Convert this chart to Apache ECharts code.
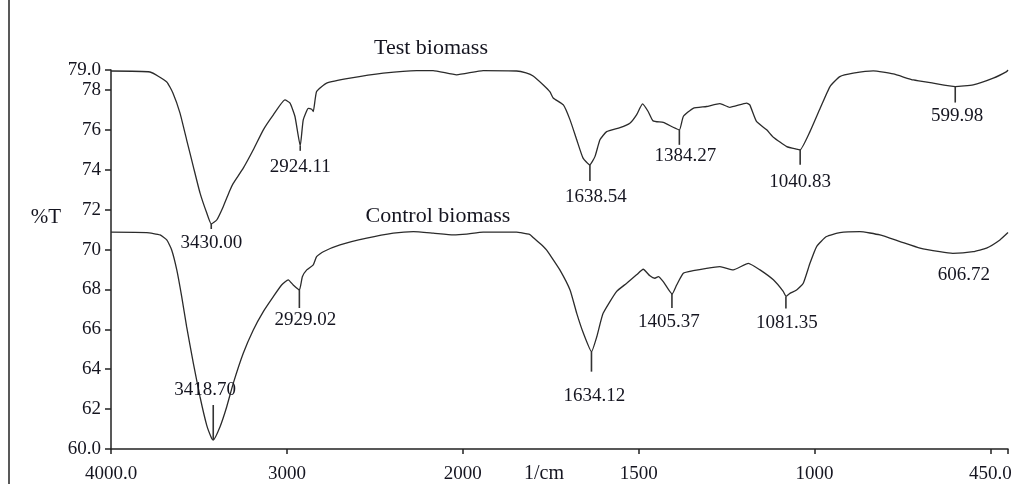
<!DOCTYPE html>
<html>
<head>
<meta charset="utf-8">
<script src="https://cdn.jsdelivr.net/npm/echarts@6/dist/echarts.min.js"></script>
<style>html,body{margin:0;padding:0;background:#fff;}#c{width:1014px;height:484px;}</style>
</head>
<body>
<div id="c"></div>
<script>
// ---- Data (wavenumber in 1/cm, transmittance in %T) ----
const testWn = [4000, 3778, 3683, 3648, 3608, 3570, 3532, 3494, 3456, 3430, 3399, 3362, 3323, 3305, 3248, 3191, 3134, 3077, 3011, 2982, 2954, 2924, 2907, 2878, 2859, 2850, 2831, 2774, 2641, 2452, 2262, 2169, 2035, 1942, 1847, 1820, 1800, 1771, 1752, 1743, 1714, 1695, 1676, 1658, 1639, 1624, 1610, 1591, 1553, 1525, 1506, 1489, 1473, 1459, 1430, 1402, 1384, 1373, 1345, 1307, 1269, 1241, 1193, 1184, 1165, 1136, 1117, 1079, 1051, 1041, 1013, 984, 956, 928, 890, 833, 776, 719, 663, 600, 549, 492, 454, 450];
const testT  = [78.95, 78.9, 78.4, 77.85, 76.85, 75.5, 74.16, 72.84, 71.84, 71.28, 71.48, 72.15, 72.99, 73.32, 74.08, 75.0, 76.0, 76.75, 77.5, 77.34, 76.67, 75.2, 76.5, 77.08, 77.03, 76.92, 77.92, 78.34, 78.59, 78.84, 78.97, 78.97, 78.76, 78.97, 78.95, 78.85, 78.7, 78.25, 77.9, 77.6, 77.25, 76.5, 75.5, 74.58, 74.24, 74.67, 75.5, 75.91, 76.11, 76.33, 76.75, 77.3, 76.92, 76.45, 76.37, 76.13, 76.0, 76.67, 77.08, 77.17, 77.31, 77.13, 77.34, 77.25, 76.42, 76.0, 75.63, 75.16, 75.03, 75.0, 75.91, 77.08, 78.17, 78.67, 78.84, 78.96, 78.8, 78.5, 78.34, 78.17, 78.25, 78.59, 78.92, 79.0];

const controlWn = [4000, 3797, 3721, 3683, 3655, 3626, 3598, 3570, 3532, 3494, 3456, 3428, 3419, 3380, 3342, 3305, 3248, 3191, 3134, 3077, 3030, 2992, 2964, 2929, 2912, 2887, 2850, 2831, 2793, 2698, 2546, 2395, 2281, 2168, 2054, 1989, 1942, 1847, 1837, 1809, 1800, 1771, 1762, 1752, 1724, 1695, 1676, 1657, 1634, 1619, 1601, 1563, 1534, 1506, 1487, 1468, 1454, 1444, 1430, 1405, 1392, 1373, 1345, 1307, 1269, 1231, 1188, 1155, 1117, 1089, 1081, 1070, 1051, 1032, 1013, 994, 966, 928, 871, 814, 757, 700, 644, 607, 549, 511, 473, 450];
const controlT  = [70.87, 70.85, 70.73, 70.48, 69.98, 68.98, 67.64, 66.13, 64.3, 62.62, 61.2, 60.54, 60.45, 61.12, 62.12, 63.29, 64.8, 65.97, 66.89, 67.64, 68.22, 68.48, 68.22, 67.97, 68.64, 68.98, 69.23, 69.64, 69.89, 70.23, 70.57, 70.82, 70.9, 70.82, 70.73, 70.77, 70.87, 70.87, 70.85, 70.75, 70.6, 70.15, 69.98, 69.73, 68.98, 67.97, 66.8, 65.8, 64.88, 65.63, 66.8, 67.89, 68.31, 68.73, 69.01, 68.68, 68.56, 68.64, 68.39, 67.77, 68.22, 68.81, 68.94, 69.06, 69.14, 68.98, 69.31, 68.98, 68.48, 67.9, 67.65, 67.8, 67.97, 68.31, 69.31, 70.15, 70.65, 70.85, 70.9, 70.73, 70.4, 70.07, 69.89, 69.81, 69.89, 70.07, 70.48, 70.85];

const testPeakWn = [3430.00, 2924.11, 1638.54, 1384.27, 1040.83, 599.98];
const testPeakT  = [71.28, 75.2, 74.24, 76.0, 75.0, 78.17];
const controlPeakWn = [3418.70, 2929.02, 1634.12, 1405.37, 1081.35, 606.72];
const controlPeakT  = [60.45, 67.97, 64.88, 67.77, 67.65, 69.81];

const xTickWn     = [4000, 3000, 2000, 1500, 1000, 500];
const xTickLabels = ['4000.0', '3000', '2000', '1500', '1000', '450.0'];
const yTicks      = [60, 62, 64, 66, 68, 70, 72, 74, 76, 78, 79];
const yTickLabels = ['60.0', '62', '64', '66', '68', '70', '72', '74', '76', '78', '79.0'];

// ---- Layout / style (pixels) for the peak markers: [tickLength, labelGap, labelDx] ----
const testPeakLayout    = [[5, 14, 0], [5, 16, 0], [16, 16, 6], [15, 11, 6], [15, 17, 0], [16, 13, 2]];
const controlPeakLayout = [[-35, -15, -8], [18, 12, 6], [20, 24, 3], [14, 14, -3], [12, 15, 1], [0, 22, 11]];

// Spectrometer axis: 4000-2000 region is compressed by a factor of 2
const toT = w => (w > 2000 ? 2000 + (w - 2000) / 2 : w);

const FONT = "'Liberation Serif', 'Times New Roman', 'DejaVu Serif', serif";
const TXT = '#151520';
const LINE = '#2b2b2b';

const chart = echarts.init(document.getElementById('c'), null, { renderer: 'canvas' });

function peakSeries(wns, ts, layout) {
  return {
    type: 'custom',
    coordinateSystem: 'cartesian2d',
    clip: false,
    z: 5,
    silent: true,
    data: wns.map((w, i) => [toT(w), ts[i], i]),
    renderItem: function (params, api) {
      const i = api.value(2);
      const p = api.coord([api.value(0), api.value(1)]);
      const L = layout[i];
      const end = p[1] + L[0];
      const children = [];
      if (L[0] !== 0) {
        children.push({
          type: 'line',
          shape: { x1: p[0], y1: p[1], x2: p[0], y2: end },
          style: { stroke: '#333', lineWidth: 1.6 }
        });
      }
      children.push({
        type: 'text',
        style: {
          x: p[0] + L[2], y: end + L[1],
          text: wns[i].toFixed(2),
          align: 'center', verticalAlign: 'middle',
          font: '19px ' + FONT, fill: TXT
        }
      });
      return { type: 'group', children: children };
    }
  };
}

const tickVals = xTickWn.map(toT);
const option = {
  animation: false,
  backgroundColor: '#fff',
  grid: { left: 111, right: 6, top: 70, bottom: 35, containLabel: false, outerBoundsMode: 'none' },
  xAxis: {
    type: 'value',
    min: 450, max: 3000,
    inverse: true,
    axisLine: { show: true, lineStyle: { color: '#222', width: 1.5 } },
    axisTick: { show: true, length: 5, lineStyle: { color: '#222', width: 1.5 }, customValues: tickVals.concat([450]) },
    axisLabel: {
      customValues: tickVals,
      margin: 16,
      fontFamily: FONT, fontSize: 19, color: TXT,
      formatter: v => { const k = tickVals.indexOf(v); return k >= 0 ? xTickLabels[k] : ''; }
    },
    splitLine: { show: false }
  },
  yAxis: {
    type: 'value',
    min: 60, max: 79,
    axisLine: { show: true, lineStyle: { color: '#222', width: 1.5 } },
    axisTick: { show: true, length: 6, lineStyle: { color: '#222', width: 1.5 }, customValues: yTicks },
    axisLabel: {
      customValues: yTicks,
      showMinLabel: true, showMaxLabel: true,
      margin: 10,
      fontFamily: FONT, fontSize: 19, color: TXT,
      formatter: v => { const k = yTicks.indexOf(v); return k >= 0 ? yTickLabels[k] : ''; }
    },
    splitLine: { show: false }
  },
  series: [
    {
      name: 'Test biomass', type: 'line', showSymbol: false, silent: true,
      data: testWn.map((w, i) => [toT(w), testT[i]]),
      lineStyle: { color: LINE, width: 1.3 }, smooth: 0.15
    },
    {
      name: 'Control biomass', type: 'line', showSymbol: false, silent: true,
      data: controlWn.map((w, i) => [toT(w), controlT[i]]),
      lineStyle: { color: LINE, width: 1.3 }, smooth: 0.15
    },
    peakSeries(testPeakWn, testPeakT, testPeakLayout),
    peakSeries(controlPeakWn, controlPeakT, controlPeakLayout)
  ],
  graphic: [
    { type: 'line', shape: { x1: 9, y1: 0, x2: 9, y2: 484 }, style: { stroke: '#222', lineWidth: 1.5 } },
    { type: 'text', x: 431, y: 48, style: { text: 'Test biomass', align: 'center', verticalAlign: 'middle', font: '22px ' + FONT, fill: TXT } },
    { type: 'text', x: 438, y: 216, style: { text: 'Control biomass', align: 'center', verticalAlign: 'middle', font: '22px ' + FONT, fill: TXT } },
    { type: 'text', x: 46, y: 217, style: { text: '%T', align: 'center', verticalAlign: 'middle', font: '21px ' + FONT, fill: TXT } },
    { type: 'text', x: 544, y: 474, style: { text: '1/cm', align: 'center', verticalAlign: 'middle', font: '20px ' + FONT, fill: TXT } }
  ]
};
chart.setOption(option);
</script>
</body>
</html>
